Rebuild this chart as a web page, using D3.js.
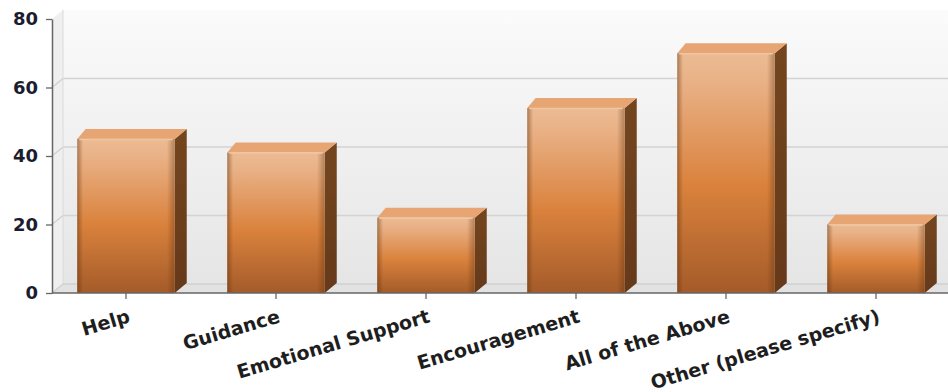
<!DOCTYPE html>
<html>
<head>
<meta charset="utf-8">
<script src="https://cdn.jsdelivr.net/npm/d3@7"></script>
<style>
  html, body { margin: 0; padding: 0; background: #ffffff; }
  svg { display: block; }
</style>
</head>
<body>
<svg id="chart" width="948" height="392"></svg>
<script>
// Responses per support type
const categories = ["Help", "Guidance", "Emotional Support", "Encouragement", "All of the Above", "Other (please specify)"];
const values = [45, 41, 22, 54, 70, 20];
const yTicks = [0, 20, 40, 60, 80];

const W = 948, H = 392;
const depthX = 11, depthY = -9;   // 3D depth offset of the walls
const barDX = 12, barDY = -10;    // 3D depth offset of each bar

const svg = d3.select("#chart");
const defs = svg.append("defs");

const y = d3.scaleLinear().domain([0, 80]).range([293, 19]);
const x = d3.scaleBand().domain(categories).range([51, 951]).paddingInner(0.35).paddingOuter(0.175);

const x0 = 52, xEnd = W;
const yBase = y(0);

// ---- gradients ----
const wallGrad = defs.append("linearGradient").attr("id", "wallGrad")
  .attr("x1", 0).attr("y1", 0).attr("x2", 0).attr("y2", 1);
wallGrad.append("stop").attr("offset", "0%").attr("stop-color", "#fbfbfb");
wallGrad.append("stop").attr("offset", "100%").attr("stop-color", "#e5e5e5");

const frontGrad = defs.append("linearGradient").attr("id", "frontGrad")
  .attr("x1", 0).attr("y1", 0).attr("x2", 0).attr("y2", 1);
[["0%", "#ecbb93"], ["12%", "#e9b186"], ["55%", "#da823d"], ["100%", "#a45b29"]]
  .forEach(([o, c]) => frontGrad.append("stop").attr("offset", o).attr("stop-color", c));

const edgeGrad = defs.append("linearGradient").attr("id", "edgeGrad")
  .attr("x1", 0).attr("y1", 0).attr("x2", 1).attr("y2", 0);
[["0%", "rgba(90,45,10,0.45)"], ["6%", "rgba(90,45,10,0.0)"], ["92%", "rgba(90,45,10,0.0)"], ["100%", "rgba(90,45,10,0.4)"]]
  .forEach(([o, c]) => edgeGrad.append("stop").attr("offset", o).attr("stop-color", c));

const sideGrad = defs.append("linearGradient").attr("id", "sideGrad")
  .attr("x1", 0).attr("y1", 0).attr("x2", 0).attr("y2", 1);
sideGrad.append("stop").attr("offset", "0%").attr("stop-color", "#74461f");
sideGrad.append("stop").attr("offset", "100%").attr("stop-color", "#65391a");

// ---- walls ----
svg.append("rect")
  .attr("x", x0 + depthX).attr("y", y(80) + depthY)
  .attr("width", xEnd - x0 - depthX).attr("height", yBase - y(80))
  .attr("fill", "url(#wallGrad)");

// left side wall
svg.append("path")
  .attr("d", `M${x0},${y(80)} L${x0 + depthX},${y(80) + depthY} L${x0 + depthX},${yBase + depthY} L${x0},${yBase} Z`)
  .attr("fill", "#efefef");

// floor
svg.append("path")
  .attr("d", `M${x0},${yBase} L${x0 + depthX},${yBase + depthY} L${xEnd},${yBase + depthY} L${xEnd},${yBase} Z`)
  .attr("fill", "#e2e2e2");

// gridlines on back wall and side wall
const grid = svg.append("g");
yTicks.filter(v => v > 0 && v < 80).forEach(v => {
  grid.append("line")
    .attr("x1", x0 + depthX).attr("x2", xEnd)
    .attr("y1", y(v) + depthY).attr("y2", y(v) + depthY)
    .attr("stroke", "#d3d3d3").attr("stroke-width", 1.5);
});
yTicks.filter(v => v < 80).forEach(v => {
  grid.append("line")
    .attr("x1", x0).attr("y1", y(v))
    .attr("x2", x0 + depthX).attr("y2", y(v) + depthY)
    .attr("stroke", "#cfcfcf").attr("stroke-width", 1.2);
});
grid.append("line")
  .attr("x1", x0 + depthX).attr("x2", x0 + depthX)
  .attr("y1", y(80) + depthY).attr("y2", yBase + depthY)
  .attr("stroke", "#dadada").attr("stroke-width", 1);
grid.append("line")
  .attr("x1", x0 + depthX).attr("x2", xEnd)
  .attr("y1", yBase + depthY).attr("y2", yBase + depthY)
  .attr("stroke", "#c8c8c8").attr("stroke-width", 1.2);

// ---- bars ----
const data = categories.map((c, i) => ({ c, v: values[i] }));
const bw = x.bandwidth();
const bars = svg.append("g").selectAll("g").data(data).join("g");

bars.append("path") // side face
  .attr("d", d => {
    const l = x(d.c) + bw, t = y(d.v);
    return `M${l},${t} L${l + barDX},${t + barDY} L${l + barDX},${yBase + barDY} L${l},${yBase} Z`;
  })
  .attr("fill", "url(#sideGrad)");

bars.append("path") // top face
  .attr("d", d => {
    const l = x(d.c), t = y(d.v);
    return `M${l},${t} L${l + barDX * 0.7},${t + barDY} L${l + bw + barDX},${t + barDY} L${l + bw},${t} Z`;
  })
  .attr("fill", "#e8a574");

bars.append("rect") // front face
  .attr("x", d => x(d.c)).attr("y", d => y(d.v))
  .attr("width", bw).attr("height", d => yBase - y(d.v))
  .attr("fill", "url(#frontGrad)");

bars.append("rect") // darker vertical edges on the front
  .attr("x", d => x(d.c)).attr("y", d => y(d.v))
  .attr("width", bw).attr("height", d => yBase - y(d.v))
  .attr("fill", "url(#edgeGrad)");

bars.append("line") // light bevel on the top edge
  .attr("x1", d => x(d.c) + 2).attr("x2", d => x(d.c) + bw - 2)
  .attr("y1", d => y(d.v) + 0.5).attr("y2", d => y(d.v) + 0.5)
  .attr("stroke", "#f0c6a2").attr("stroke-width", 1.5);

// ---- axes ----
const yAxis = svg.append("g")
  .attr("transform", `translate(${x0},0)`)
  .call(d3.axisLeft(y).tickValues(yTicks).tickSize(6).tickPadding(8).tickSizeOuter(0));
yAxis.select(".domain").attr("stroke", "#666").attr("stroke-width", 1.5);
yAxis.selectAll(".tick line").attr("stroke", "#666").attr("stroke-width", 1.3);
yAxis.selectAll(".tick text")
  .attr("font-family", "'DejaVu Sans', Verdana, sans-serif")
  .attr("font-weight", "bold").attr("font-size", 18)
  .attr("fill", "#1c1c30");

const xAxis = svg.append("g")
  .attr("transform", `translate(0,${yBase})`)
  .call(d3.axisBottom(x).tickSize(6).tickSizeOuter(0).tickFormat(""));
xAxis.select(".domain").attr("d", `M${x0},0H${xEnd}`).attr("stroke", "#666").attr("stroke-width", 1.5);
xAxis.selectAll(".tick line").attr("stroke", "#666").attr("stroke-width", 1.3);

svg.append("g").selectAll("text").data(categories).join("text")
  .attr("transform", d => `translate(${x(d) + bw / 2 + 5},${yBase + 29}) rotate(-16.5)`)
  .attr("text-anchor", "end")
  .attr("font-family", "'DejaVu Sans', Verdana, sans-serif")
  .attr("font-weight", "bold").attr("font-size", 19)
  .attr("fill", "#1e1e1e")
  .text(d => d);
</script>
</body>
</html>
